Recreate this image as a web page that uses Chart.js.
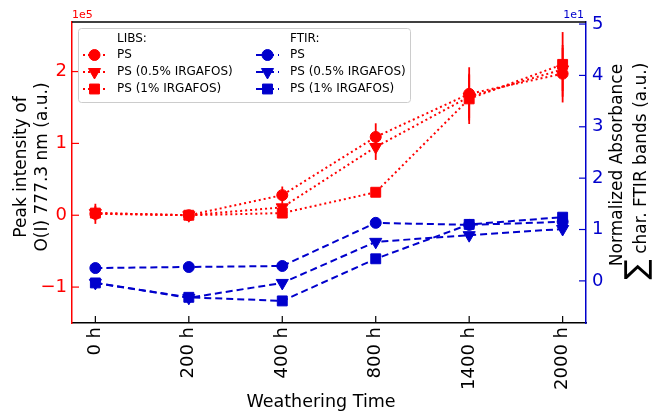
<!DOCTYPE html>
<html>
<head>
<meta charset="utf-8">
<script src="https://cdn.jsdelivr.net/npm/chart.js@4.4.1/dist/chart.umd.min.js"></script>
<style>
  body { margin: 0; background: #fff; }
</style>
</head>
<body>
<canvas id="myChart" width="653" height="412"></canvas>
<script>
const timeLabels = ['0 h', '200 h', '400 h', '800 h', '1400 h', '2000 h'];

// LIBS peak intensity of O(I) 777.3 nm, in units of 1e5
const libsPS = [0.02, 0.0, 0.28, 1.09, 1.69, 1.97];
const libsPS05 = [0.03, 0.0, 0.11, 0.95, 1.65, 2.03];
const libsPS1 = [0.03, 0.0, 0.03, 0.32, 1.62, 2.1];
const libsErrPS = [0.14, 0.03, 0.12, 0.19, 0.37, 0.40];
const libsErrPS05 = [0.10, 0.03, 0.05, 0.18, 0.30, 0.30];
const libsErrPS1 = [0.08, 0.03, 0.04, 0.04, 0.35, 0.45];

// FTIR normalized absorbance, in units of 1e1
const ftirPS = [0.25, 0.27, 0.29, 1.13, 1.09, 1.15];
const ftirPS05 = [-0.04, -0.33, -0.04, 0.76, 0.89, 1.01];
const ftirPS1 = [-0.04, -0.32, -0.39, 0.43, 1.10, 1.24];

const leftTicks = [-1, 0, 1, 2];
const rightTicks = [0, 1, 2, 3, 4, 5];

const RED = '#ff0000';
const BLUE = '#0000cc';
const FONT = "'DejaVu Sans', sans-serif";

const toXY = arr => arr.map((v, i) => ({ x: i, y: v }));

function series(label, values, axis, color, dash, style, radius, rotation, err) {
  return {
    label: label,
    data: toXY(values),
    yAxisID: axis,
    borderColor: color,
    backgroundColor: color,
    borderDash: dash,
    borderWidth: 2,
    pointStyle: style,
    pointRadius: radius,
    pointRotation: rotation,
    pointBorderWidth: 1,
    fill: false,
    tension: 0,
    err: err,
  };
}

const datasets = [
  series('PS', libsPS, 'y', RED, [2, 3], 'circle', 5.5, 0, libsErrPS),
  series('PS (0.5% IRGAFOS)', libsPS05, 'y', RED, [2, 3], 'triangle', 7, 180, libsErrPS05),
  series('PS (1% IRGAFOS)', libsPS1, 'y', RED, [2, 3], 'rect', 7, 0, libsErrPS1),
  series('PS', ftirPS, 'y2', BLUE, [7, 4], 'circle', 5.5, 0, null),
  series('PS (0.5% IRGAFOS)', ftirPS05, 'y2', BLUE, [7, 4], 'triangle', 7, 180, null),
  series('PS (1% IRGAFOS)', ftirPS1, 'y2', BLUE, [7, 4], 'rect', 7, 0, null),
];

const minus = v => (v < 0 ? '\u2212' + Math.abs(v) : String(v));

function line(ctx, x1, y1, x2, y2) {
  ctx.beginPath();
  ctx.moveTo(x1, y1);
  ctx.lineTo(x2, y2);
  ctx.stroke();
}

function rotatedText(ctx, parts, cy, baseX) {
  // parts drawn bottom-to-top, centred on screen y = cy
  ctx.save();
  ctx.translate(baseX, cy);
  ctx.rotate(-Math.PI / 2);
  let total = 0;
  parts.forEach(p => { ctx.font = p.font; total += ctx.measureText(p.text).width; });
  let x = -total / 2;
  ctx.textAlign = 'left';
  ctx.textBaseline = 'alphabetic';
  parts.forEach(p => {
    ctx.font = p.font;
    ctx.fillText(p.text, x, 0);
    x += ctx.measureText(p.text).width;
  });
  ctx.restore();
}

const decorations = {
  id: 'decorations',
  beforeDatasetsDraw(chart) {
    const ctx = chart.ctx;
    const xs = chart.scales.x;
    ctx.save();
    chart.data.datasets.forEach(ds => {
      if (!ds.err) return;
      const ys = chart.scales[ds.yAxisID];
      ctx.strokeStyle = ds.borderColor;
      ctx.lineWidth = 1.8;
      ds.data.forEach((p, i) => {
        const e = ds.err[i];
        const px = xs.getPixelForValue(p.x);
        line(ctx, px, ys.getPixelForValue(p.y - e), px, ys.getPixelForValue(p.y + e));
      });
    });
    ctx.restore();
  },
  afterDraw(chart) {
    const ctx = chart.ctx;
    const a = chart.chartArea;
    const xs = chart.scales.x, yl = chart.scales.y, yr = chart.scales.y2;
    ctx.save();

    // top spine
    ctx.strokeStyle = '#000';
    ctx.lineWidth = 1.5;
    line(ctx, a.left, a.top, a.right, a.top);

    // inward ticks
    ctx.lineWidth = 1.2;
    ctx.strokeStyle = '#000';
    timeLabels.forEach((_, i) => {
      const px = xs.getPixelForValue(i);
      line(ctx, px, a.bottom, px, a.bottom - 7);
    });
    ctx.strokeStyle = RED;
    leftTicks.forEach(v => {
      const py = yl.getPixelForValue(v);
      line(ctx, a.left, py, a.left + 7, py);
    });
    ctx.strokeStyle = BLUE;
    rightTicks.forEach(v => {
      const py = yr.getPixelForValue(v);
      line(ctx, a.right - 7, py, a.right, py);
    });

    // offset texts
    ctx.font = '11px ' + FONT;
    ctx.textBaseline = 'alphabetic';
    ctx.fillStyle = RED;
    ctx.textAlign = 'left';
    ctx.fillText('1e5', a.left, 18);
    ctx.fillStyle = BLUE;
    ctx.textAlign = 'right';
    ctx.fillText('1e1', a.right - 2, 18);

    // axis titles
    ctx.fillStyle = '#000';
    const tf = '17px ' + FONT;
    rotatedText(ctx, [{ text: 'Peak intensity of', font: tf }], 167, 26);
    rotatedText(ctx, [{ text: 'O(I) 777.3 nm (a.u.)', font: tf }], 167, 47);
    rotatedText(ctx, [{ text: 'Normalized Absorbance', font: tf }], 165, 622);
    rotatedText(ctx, [{ text: '\u2211', font: '30px ' + FONT }, { text: ' char. FTIR bands (a.u.)', font: tf }], 171, 646);
    ctx.font = '17.5px ' + FONT;
    ctx.textAlign = 'center';
    ctx.fillText('Weathering Time', 321, 407);

    // legend
    const lx = 78, ly = 28, lw = 332, lh = 74;
    ctx.fillStyle = 'rgba(255,255,255,0.8)';
    ctx.strokeStyle = '#cccccc';
    ctx.lineWidth = 1;
    ctx.beginPath();
    ctx.roundRect(lx + 0.5, ly + 0.5, lw, lh, 3);
    ctx.fill();
    ctx.stroke();

    ctx.font = '12px ' + FONT;
    ctx.textAlign = 'left';
    ctx.textBaseline = 'middle';
    ctx.fillStyle = '#000';
    ctx.fillText('LIBS:', 117, 39);
    ctx.fillText('FTIR:', 290, 39);
    const rows = [55, 72, 89];
    const cols = [{ x1: 83, x2: 106, tx: 117 }, { x1: 256, x2: 279, tx: 290 }];
    chart.data.datasets.forEach((ds, k) => {
      const c = cols[Math.floor(k / 3)];
      const y = rows[k % 3];
      ctx.save();
      ctx.strokeStyle = ds.borderColor;
      ctx.lineWidth = ds.borderWidth;
      ctx.setLineDash(ds.borderDash);
      line(ctx, c.x1, y, c.x2, y);
      ctx.restore();
      ctx.fillStyle = ds.backgroundColor;
      ctx.strokeStyle = ds.borderColor;
      ctx.lineWidth = 1;
      Chart.helpers.drawPoint(ctx, {
        pointStyle: ds.pointStyle,
        radius: ds.pointRadius,
        rotation: ds.pointRotation,
        borderWidth: 1,
      }, (c.x1 + c.x2) / 2, y);
      ctx.fillStyle = '#000';
      ctx.fillText(ds.label, c.tx, y);
    });

    ctx.restore();
  },
};

new Chart(document.getElementById('myChart').getContext('2d'), {
  type: 'line',
  data: { datasets: datasets },
  options: {
    responsive: false,
    animation: false,
    layout: { padding: { top: 22, left: 0, right: 0, bottom: 0 } },
    plugins: { legend: { display: false }, tooltip: { enabled: false } },
    scales: {
      x: {
        type: 'linear',
        min: -0.25,
        max: 5.25,
        afterBuildTicks: s => { s.ticks = timeLabels.map((_, i) => ({ value: i })); },
        afterFit: s => { s.height = 89; },
        grid: { display: false, drawTicks: false },
        border: { color: '#000', width: 1.5 },
        ticks: {
          callback: v => timeLabels[v],
          autoSkip: false,
          minRotation: 90,
          maxRotation: 90,
          padding: 4,
          color: '#000',
          font: { family: FONT, size: 18 },
        },
      },
      y: {
        position: 'left',
        min: -1.5,
        max: 2.69,
        afterBuildTicks: s => { s.ticks = leftTicks.map(v => ({ value: v })); },
        afterFit: s => { s.width = 72; },
        grid: { display: false, drawTicks: false },
        border: { color: RED, width: 1.5 },
        ticks: {
          callback: minus,
          padding: 5,
          color: RED,
          font: { family: FONT, size: 18 },
        },
      },
      y2: {
        position: 'right',
        min: -0.82,
        max: 5.04,
        afterBuildTicks: s => { s.ticks = rightTicks.map(v => ({ value: v })); },
        afterFit: s => { s.width = 67; },
        grid: { display: false, drawTicks: false },
        border: { color: BLUE, width: 1.5 },
        ticks: {
          callback: minus,
          padding: 6,
          color: BLUE,
          font: { family: FONT, size: 18 },
        },
      },
    },
  },
  plugins: [decorations],
});
</script>
</body>
</html>
